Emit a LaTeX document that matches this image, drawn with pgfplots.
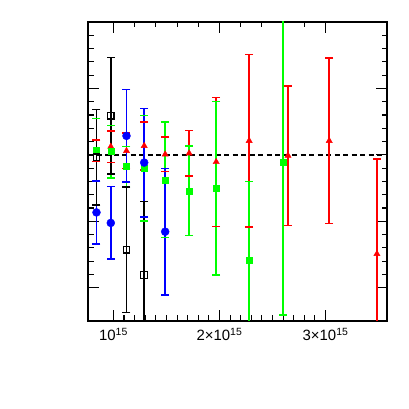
\documentclass[border=0pt]{standalone}
\usepackage{pgfplots}
\pgfplotsset{compat=1.18}
\usepackage{fontspec}
\setmainfont{Liberation Sans}
\definecolor{pred}{RGB}{255,0,0}
\definecolor{pgreen}{RGB}{0,255,0}
\definecolor{pblue}{RGB}{0,0,255}
\begin{document}
\begin{tikzpicture}
\useasboundingbox (-88bp,-88bp) rectangle (321bp,321bp);
\pgfplotsset{
  common/.style={
    at={(0,0)}, anchor=south west,
    scale only axis, width=299bp, height=299bp,
    xmin=0.76, xmax=3.58, ymin=-0.25, ymax=2,
    axis line style={line width=1.4bp, black},
    tick align=inside,
    major tick length=11bp, minor tick length=5.5bp,
    every tick/.append style={line width=1.1bp, black},
  },
  bars/.style={line width=1.8bp, solid, mark=-, mark size=4bp,
    mark options={solid, line width=1.5bp}, unbounded coords=jump},
}
% top ticks
\begin{axis}[common,
  xtick={1,2,3}, xticklabels={}, minor x tick num=4, xtick pos=right,
  ytick=\empty]
\end{axis}
\begin{axis}[common,
  xtick={1,2,3}, minor x tick num=9, xtick pos=left,
  xticklabels={10\textsuperscript{15}, 2×10\textsuperscript{15}, 3×10\textsuperscript{15}},
  x tick label style={font=\fontsize{15}{17}\selectfont, yshift=-4bp},
  ytick={0,0.5,1,1.5,2}, minor y tick num=4, ytick pos=both, yticklabels={}]

\addplot[black, line width=1.3bp, dash pattern=on 5bp off 3.5bp] coordinates {(0.76,1) (3.58,1)};

% red series: error bars (low, high) then markers
\addplot[pred, bars] coordinates {
(0.840,0.949) (0.840,1.111) (0.840,nan)
(0.975,0.943) (0.975,1.181) (0.975,nan)
(1.123,0.897) (1.123,1.163) (1.123,nan)
(1.290,0.887) (1.290,1.249) (1.290,nan)
(1.488,0.875) (1.488,1.133) (1.488,nan)
(1.714,0.842) (1.714,1.182) (1.714,nan)
(1.969,0.461) (1.969,1.433) (1.969,nan)
(2.280,0.457) (2.280,1.755) (2.280,nan)
(2.646,0.470) (2.646,1.520) (2.646,nan)
(3.035,0.482) (3.035,1.730) (3.035,nan)
(3.485,-0.460) (3.485,0.970)
};
\addplot[pred, only marks, mark=triangle*, mark size=3.6bp, mark options={solid, fill=pred, line width=0.4bp}] coordinates {
(0.840,1.030) (0.975,1.062) (1.123,1.030) (1.290,1.068) (1.488,1.004) (1.714,1.012)
(1.969,0.947) (2.280,1.106) (2.646,0.995) (3.035,1.106) (3.485,0.255)
};

% green series
\addplot[pgreen, bars] coordinates {
(0.840,0.804) (0.840,1.272) (0.840,nan)
(0.975,0.827) (0.975,1.223) (0.975,nan)
(1.123,0.762) (1.123,1.062) (1.123,nan)
(1.290,0.502) (1.290,1.298) (1.290,nan)
(1.488,0.377) (1.488,1.247) (1.488,nan)
(1.714,0.395) (1.714,1.065) (1.714,nan)
(1.969,0.097) (1.969,1.403) (1.969,nan)
(2.280,-0.390) (2.280,0.800) (2.280,nan)
(2.600,-0.205) (2.600,2.095)
};
\addplot[pgreen, only marks, mark=square*, mark size=3bp, mark options={solid, fill=pgreen, line width=0.4bp}] coordinates {
(0.840,1.038) (0.975,1.025) (1.123,0.912) (1.290,0.900) (1.488,0.812)
(1.714,0.730) (1.969,0.750) (2.280,0.205) (2.600,0.945)
};

% blue series
\addplot[pblue, bars] coordinates {
(0.840,0.329) (0.840,0.805) (0.840,nan)
(0.975,0.215) (0.975,0.761) (0.975,nan)
(1.123,0.795) (1.123,1.491) (1.123,nan)
(1.290,0.534) (1.290,1.350) (1.290,nan)
(1.488,-0.053) (1.488,0.897)
};
\addplot[pblue, only marks, mark=*, mark size=4bp, mark options={solid, fill=pblue, line width=0.4bp}] coordinates {
(0.840,0.567) (0.975,0.488) (1.123,1.143) (1.290,0.942) (1.488,0.422)
};

% black series
\addplot[black, bars] coordinates {
(0.840,0.623) (0.840,1.343) (0.840,nan)
(0.975,0.857) (0.975,1.733) (0.975,nan)
(1.123,-0.186) (1.123,0.760) (1.123,nan)
(1.290,-0.460) (1.290,0.650)
};
\addplot[black, only marks, mark=square, mark size=3.3bp, mark options={solid, fill=white, line width=1.2bp}] coordinates {
(0.840,0.983) (0.975,1.295) (1.123,0.287) (1.290,0.095)
};
\end{axis}
\end{tikzpicture}
\end{document}
